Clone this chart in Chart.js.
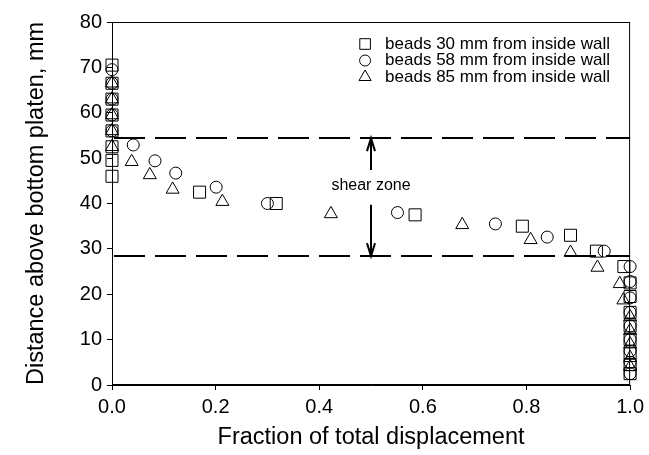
<!DOCTYPE html>
<html lang="en">
<head>
    <meta charset="UTF-8"/>
    <title>Bead displacement through shear zone</title>
    <script src="https://cdn.jsdelivr.net/npm/chart.js"></script>
    <style>
        html, body {
            margin: 0;
            padding: 0;
            background-color: #fff;
            overflow: hidden;
        }
        .chart-box {
            width: 649px;
            height: 455px;
            position: relative;
        }
    </style>
</head>
<body>
<div class="chart-box">
    <canvas id="beadChart"></canvas>
</div>

<script>
    const FONT = 'Arial, "Liberation Sans", sans-serif';

    const xTickValues = [0, 0.2, 0.4, 0.6, 0.8, 1.0];
    const yTickValues = [0, 10, 20, 30, 40, 50, 60, 70, 80];

    const seriesLabels = [
        'beads 30 mm from inside wall',
        'beads 58 mm from inside wall',
        'beads 85 mm from inside wall'
    ];

    // beads 30 mm from inside wall (squares)
    const beads30X = [0, 0, 0, 0, 0, 0, 0, 0,
        0.169, 0.317, 0.585, 0.792, 0.885, 0.935, 0.988,
        1, 1, 1, 1, 1, 1, 1, 1];
    const beads30Y = [46, 49.5, 52.5, 56, 59.5, 63, 66.5, 70.5,
        42.5, 40.0, 37.5, 35.0, 33.0, 29.5, 26.1,
        22.5, 19.5, 16, 13, 10, 7, 4.5, 2.5];

    // beads 58 mm from inside wall (circles)
    const beads58X = [0, 0, 0, 0, 0,
        0.041, 0.083, 0.123, 0.201, 0.300, 0.551, 0.740, 0.840, 0.950,
        1, 1, 1, 1, 1, 1, 1, 1, 1];
    const beads58Y = [56, 59.5, 63, 66.5, 69.5,
        52.9, 49.4, 46.7, 43.6, 40.0, 38.0, 35.5, 32.6, 29.5,
        26.1, 22.8, 19.2, 16, 13, 10, 7.5, 5, 2.5];

    // beads 85 mm from inside wall (triangles)
    const beads85X = [0, 0, 0, 0, 0,
        0.038, 0.073, 0.117, 0.213, 0.4225, 0.676, 0.808, 0.885, 0.937, 0.980, 0.987,
        1, 1, 1, 1, 1];
    const beads85Y = [52.5, 56, 59.5, 63, 66.5,
        49.2, 46.3, 43.1, 40.4, 37.7, 35.3, 32.0, 29.2, 25.9, 22.3, 18.7,
        15, 12, 9, 6, 4];

    // shear zone limits and annotation
    const shearZoneTop = 54.4;
    const shearZoneBottom = 28.4;
    const shearLabelX = 0.5;
    const shearLabelY = 43.9;
    const arrowUpperFrom = 47.4;
    const arrowLowerFrom = 39.7;

    const toPoints = (xs, ys) => xs.map((x, i) => ({x: x, y: ys[i]}));

    const markerStyles = [
        {pointStyle: 'rect', radius: 8.5, legendRadius: 7.5},
        {pointStyle: 'circle', radius: 6, legendRadius: 5.5},
        {pointStyle: 'triangle', radius: 7.5, legendRadius: 7}
    ];

    const overlayPlugin = {
        id: 'overlay',
        afterDatasetsDraw(chart) {
            const {ctx, chartArea: a, scales} = chart;
            const xs = scales.x, ys = scales.y;
            ctx.save();

            // frame
            ctx.strokeStyle = '#000';
            ctx.lineWidth = 1;
            ctx.strokeRect(a.left + 0.5, a.top + 0.5, a.right - a.left - 1, a.bottom - a.top - 1);

            // dashed shear zone limits
            ctx.lineWidth = 2;
            ctx.setLineDash([31, 10]);
            [shearZoneTop, shearZoneBottom].forEach(v => {
                const py = Math.round(ys.getPixelForValue(v));
                ctx.beginPath();
                ctx.moveTo(a.left + 2, py);
                ctx.lineTo(a.right, py);
                ctx.stroke();
            });
            ctx.setLineDash([]);

            // arrows
            const ax = Math.round(xs.getPixelForValue(shearLabelX));
            const arrow = (fromV, toV) => {
                const y0 = ys.getPixelForValue(fromV);
                const y1 = ys.getPixelForValue(toV);
                const dir = y1 < y0 ? 1 : -1;
                ctx.beginPath();
                ctx.moveTo(ax, y0);
                ctx.lineTo(ax, y1);
                ctx.moveTo(ax - 4, y1 + dir * 13);
                ctx.lineTo(ax, y1);
                ctx.lineTo(ax + 4, y1 + dir * 13);
                ctx.stroke();
            };
            arrow(arrowUpperFrom, shearZoneTop);
            arrow(arrowLowerFrom, shearZoneBottom);

            ctx.fillStyle = '#000';
            ctx.font = '16px ' + FONT;
            ctx.textAlign = 'center';
            ctx.textBaseline = 'middle';
            ctx.fillText('shear zone', ax, ys.getPixelForValue(shearLabelY));

            // legend
            ctx.textAlign = 'left';
            ctx.font = '17px ' + FONT;
            ctx.lineWidth = 1;
            const lx = a.right - 265;
            seriesLabels.forEach((label, i) => {
                const ly = a.top + 22 + i * 16.5;
                ctx.fillStyle = 'rgba(0,0,0,0)';
                Chart.helpers.drawPoint(ctx, {
                    pointStyle: markerStyles[i].pointStyle,
                    radius: markerStyles[i].legendRadius,
                    rotation: 0,
                    borderWidth: 1
                }, lx, ly);
                ctx.fillStyle = '#000';
                ctx.fillText(label, lx + 20, ly);
            });
            ctx.restore();
        }
    };

    const datasets = [
        toPoints(beads30X, beads30Y),
        toPoints(beads58X, beads58Y),
        toPoints(beads85X, beads85Y)
    ].map((pts, i) => ({
        label: seriesLabels[i],
        data: pts,
        pointStyle: markerStyles[i].pointStyle,
        pointRadius: markerStyles[i].radius,
        pointHoverRadius: markerStyles[i].radius,
        pointBorderColor: '#000',
        pointBackgroundColor: 'rgba(0,0,0,0)',
        pointBorderWidth: 1,
        showLine: false,
        clip: false
    }));

    const beadChart = new Chart(document.getElementById('beadChart').getContext('2d'), {
        type: 'scatter',
        data: {datasets: datasets},
        options: {
            responsive: true,
            maintainAspectRatio: false,
            animation: false,
            layout: {padding: {left: 0, top: 22, right: 17, bottom: 0}},
            plugins: {
                legend: {display: false},
                tooltip: {enabled: false}
            },
            scales: {
                x: {
                    type: 'linear',
                    min: 0,
                    max: 1,
                    afterBuildTicks: s => { s.ticks = xTickValues.map(v => ({value: v})); },
                    afterFit: s => { s.height = 70; },
                    grid: {drawOnChartArea: false, tickLength: 5, tickColor: '#000'},
                    border: {color: '#000', width: 1},
                    ticks: {
                        color: '#000',
                        font: {family: FONT, size: 20},
                        padding: 5,
                        maxRotation: 0,
                        callback: v => Number(v).toFixed(1)
                    },
                    title: {
                        display: true,
                        text: 'Fraction of total displacement',
                        color: '#000',
                        font: {family: FONT, size: 23.5, lineHeight: 1.2},
                        padding: {top: 0, bottom: 3}
                    }
                },
                y: {
                    type: 'linear',
                    min: 0,
                    max: 80,
                    afterBuildTicks: s => { s.ticks = yTickValues.map(v => ({value: v})); },
                    afterFit: s => { s.width = 112; },
                    grid: {drawOnChartArea: false, tickLength: 5, tickColor: '#000'},
                    border: {color: '#000', width: 1},
                    ticks: {
                        color: '#000',
                        font: {family: FONT, size: 20},
                        padding: 5
                    },
                    title: {
                        display: true,
                        text: 'Distance above bottom platen, mm',
                        color: '#000',
                        font: {family: FONT, size: 23.5, lineHeight: 1.2},
                        padding: {top: 22, bottom: 0}
                    }
                }
            }
        },
        plugins: [overlayPlugin]
    });
</script>
</body>
</html>
